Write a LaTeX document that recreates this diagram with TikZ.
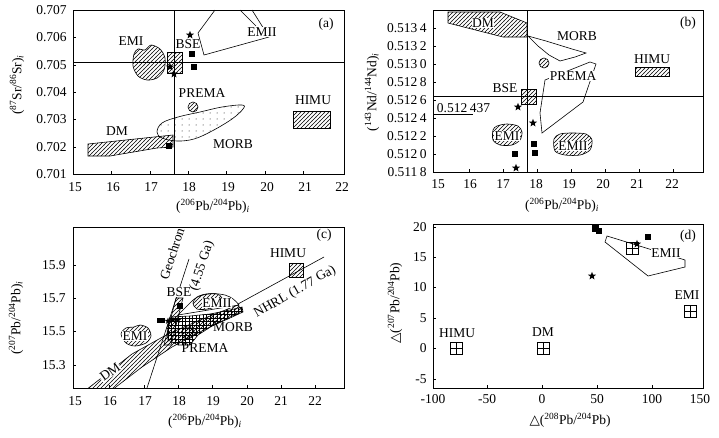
\documentclass[tikz,border=0pt]{standalone}
\usepackage{fontspec}
\setmainfont{Liberation Serif}
\newfontfamily\symf{DejaVu Sans}
\usetikzlibrary{patterns,shapes.geometric}
\pgfdeclarepatternformonly{hatchne}{\pgfpoint{-1pt}{-1pt}}{\pgfpoint{5pt}{5pt}}{\pgfpoint{4pt}{4pt}}{%
  \pgfsetlinewidth{0.55pt}\pgfpathmoveto{\pgfpoint{-0.1pt}{-0.1pt}}\pgfpathlineto{\pgfpoint{4.1pt}{4.1pt}}\pgfusepath{stroke}}
\pgfdeclarepatternformonly{gridp}{\pgfpoint{-1pt}{-1pt}}{\pgfpoint{4pt}{4pt}}{\pgfpoint{3.5pt}{3.5pt}}{%
  \pgfsetlinewidth{0.45pt}\pgfpathmoveto{\pgfpoint{0pt}{-0.1pt}}\pgfpathlineto{\pgfpoint{0pt}{3.6pt}}%
  \pgfpathmoveto{\pgfpoint{-0.1pt}{0pt}}\pgfpathlineto{\pgfpoint{3.6pt}{0pt}}\pgfusepath{stroke}}
\pgfdeclarepatternformonly{sdots}{\pgfpoint{-1pt}{-1pt}}{\pgfpoint{1pt}{1pt}}{\pgfpoint{7pt}{6pt}}{%
  \pgfpathcircle{\pgfpointorigin}{0.5pt}\pgfusepath{fill}}
\newcommand\pbsix{(\textsuperscript{206}Pb/\textsuperscript{204}Pb)\textsubscript{\itshape i}}
\tikzset{
  lab/.style={font=\fontsize{13.5}{15}\selectfont, inner sep=0.6pt},
  wlab/.style={lab, fill=white},
  tk/.style={font=\fontsize{13.5}{15}\selectfont, inner sep=1pt},
  ytk/.style={tk, anchor=east},
  frm/.style={line width=0.8pt},
  hatchr/.style={draw, line width=0.6pt, pattern=hatchne},
  sq/.style={fill, minimum size=5.5pt, inner sep=0pt},
  st/.style={star, star points=5, star point ratio=2.4, fill, minimum size=8.5pt, inner sep=0pt},
  bplus/.style={draw, line width=0.7pt, minimum size=12pt, inner sep=0pt,
    path picture={\draw (path picture bounding box.north) -- (path picture bounding box.south)
      (path picture bounding box.west) -- (path picture bounding box.east);}},
}
\begin{document}
\begin{tikzpicture}[x=1pt,y=-1pt,line width=0.6pt]
\useasboundingbox (0,0) rectangle (719,437);
\fill[white] (0,0) rectangle (719,437);

%% ================= panel (a) =================
\draw[frm] (73,10) rectangle (344,174);
\foreach \v/\y in {707/10,706/37.5,705/65,704/92,703/119.5,702/147,701/174}{
  \draw (73,\y) -- (76,\y);
  \node[ytk] (ya\v) at (68,\y) {0.\v};}
\foreach \v/\x in {15/75,16/113,17/151,18/189,19/228,20/267,21/305,22/342}{
  \node[tk] (xa\v) at (\x,187) {\v};}
\foreach \x in {111.4,149.8,188.2,226.6,265,303.4}{\draw (\x,174) -- (\x,171);}
\node[tk,rotate=90] (yta) at (17,85) {(\textsuperscript{87}Sr/\textsuperscript{86}Sr)\textsubscript{\itshape i}};
\node[tk] (xta) at (213,206) {\pbsix};
\node[lab] (tagA) at (326,24) {(a)};
% EMII outline
\draw (215,10) -- (198,33) -- (204,55) -- (269,37) -- (252,10);
\draw (240,10) -- (256,26);
\node[wlab] (aEMII) at (262,32) {EMII};
% EMI
\draw[hatchr] plot[smooth cycle] coordinates {(134,54) (138,49) (145,50) (151,45) (160,49) (165,58) (164,70) (157,78) (147,80) (138,76) (133,66)};
\node[lab] (aEMI) at (131,41) {EMI};
% BSE
\draw[hatchr] (167,52) rectangle (182,73);
\node[lab] (aBSE) at (188,44) {BSE};
% lines
\draw (174,10) -- (174,174);
\draw (73,62) -- (344,62);
% MORB
\draw[pattern=sdots] plot[smooth cycle, tension=0.6] coordinates {(157,132) (162,123) (178,117) (200,112) (222,107) (242,105) (243,109) (232,119) (212,131) (194,139) (177,141) (162,138)};
\node[lab] (aMORB) at (233,144) {MORB};
% PREMA
\draw[hatchr] (193,107) circle (5);
\node[lab] (aPREMA) at (202,93) {PREMA};
% DM
\draw[hatchr] (88,144) -- (173,135) -- (173,147) -- (157,148) -- (110,156) -- (88,156) -- cycle;
\node[lab] (aDM) at (117,131) {DM};
% HIMU
\draw[hatchr] (293,111) rectangle (330,128);
\node[lab] (aHIMU) at (313,100) {HIMU};
% samples
\node[st] (as1) at (190,35) {};
\node[st] (as2) at (170,67) {};
\node[st] (as3) at (174,74) {};
\node[sq] (aq1) at (192,54) {};
\node[sq] (aq2) at (194,67) {};
\node[sq] (aq3) at (169,146) {};

%% ================= panel (b) =================
\draw[frm] (433,10) rectangle (703,172);
\foreach \y in {28,46,64,82,100,118,136,154,172}{
  \draw (433,\y) -- (436,\y);}
\node[ytk] (yb1) at (428,28) {0.513\kern2.5pt4};
\node[ytk] (yb2) at (428,46) {0.513\kern2.5pt2};
\node[ytk] (yb3) at (428,64) {0.513\kern2.5pt0};
\node[ytk] (yb4) at (428,82) {0.512\kern2.5pt8};
\node[ytk] (yb5) at (428,100) {0.512\kern2.5pt6};
\node[ytk] (yb6) at (428,118) {0.512\kern2.5pt4};
\node[ytk] (yb7) at (428,136) {0.512\kern2.5pt2};
\node[ytk] (yb8) at (428,154) {0.512\kern2.5pt0};
\node[ytk] (yb9) at (428,172) {0.511\kern2.5pt8};
\foreach \v/\x in {15/438,16/470,17/503,18/536,19/569,20/603,21/637,22/672}{
  \node[tk] (xb\v) at (\x,184) {\v};}
\foreach \x in {469,503,537,571,605,639,673}{\draw (\x,172) -- (\x,169);}
\node[tk,rotate=90] (ytb) at (372,92) {(\textsuperscript{143}Nd/\textsuperscript{144}Nd)\textsubscript{\itshape i}};
\node[tk] (xtb) at (562,205) {\pbsix};
\node[lab] (tagB) at (688,23) {(b)};
\draw (527,10) -- (527,172);
\draw (433,96) -- (703,96);
% DM
\draw[hatchr] (448,12) -- (500,12) -- (527,23) -- (527,37) -- (503,37) -- (448,23) -- cycle;
\node[wlab] (bDM) at (483,23) {DM};
% MORB
\draw (528,36) -- (546,41) -- (572,49) -- (586,53) -- (575,57) -- (560,61) -- (549,55) -- (538,46) -- cycle;
\node[lab] (bMORB) at (577,36) {MORB};
% PREMA
\draw[hatchr] (544,63) circle (5);
\draw (590,62) -- (596,64) -- (583,102) -- (542,133) -- (540,113) -- (545,80) -- cycle;
\node[wlab] (bPREMA) at (573,76) {PREMA};
% BSE
\draw[hatchr] (521,89) rectangle (536,104);
\node[lab] (bBSE) at (505,88) {BSE};
% 0.512 437
\node[lab,anchor=west] (b437) at (436,108) {0.512\kern2.5pt437};
\coordinate (b437e) at (473,114);
\draw (433,114) -- (b437e);
% EMI, EMII
\draw[hatchr] plot[smooth cycle] coordinates {(493,130) (497,126) (507,124) (518,126) (522,132) (520,140) (512,145) (500,145) (493,140)};
\node[wlab] (bEMI) at (507,136) {EMI};
\draw[hatchr] plot[smooth cycle] coordinates {(554,139) (560,134) (572,133) (586,134) (592,140) (590,150) (580,155) (565,155) (555,151)};
\node[wlab] (bEMII) at (573,146) {EMII};
% HIMU
\draw[hatchr] (635,67) rectangle (669,76);
\node[lab] (bHIMU) at (652,59) {HIMU};
% samples
\node[st] (bs1) at (518,107) {};
\node[st] (bs2) at (533,123) {};
\node[st] (bs3) at (516,168) {};
\node[sq] (bq1) at (534,144) {};
\node[sq] (bq2) at (535,153) {};
\node[sq] (bq3) at (515,154) {};

%% ================= panel (c) =================
\draw[frm] (73,227) rectangle (344,388);
\foreach \v/\y in {15.9/265,15.7/298,15.5/331,15.3/365}{
  \draw (73,\y) -- (76,\y);
  \node[ytk] (yc\v) at (67,\y) {\v};}
\foreach \v/\x in {15/75,16/110,17/145,18/179,19/213,20/247,21/281,22/315}{
  \node[tk] (xc\v) at (\x,401) {\v};}
\foreach \x in {109,144,178,212,247,281,315}{\draw (\x,388) -- (\x,385);}
\node[tk,rotate=90] (ytc) at (16,318) {(\textsuperscript{207}Pb/\textsuperscript{204}Pb)\textsubscript{\itshape i}};
\node[tk] (xtc) at (205,421) {\pbsix};
\node[lab] (tagC) at (324,235) {(c)};
\begin{scope}
\clip (73,227) rectangle (344,388);
% DM band
\draw[hatchr] (86,390) -- (132,354) -- (168,334) -- (200,320) -- (238,305) -- (242,311) -- (200,332) -- (172,347) -- (142,367) -- (112,390) -- cycle;
% geochron
\coordinate (gc0) at (147,388);
\coordinate (gc1) at (189,259);
\draw (gc0) -- (gc1);
\end{scope}
% MORB grid
\draw[pattern=gridp] (170,317) -- (190,316) -- (210,314) -- (230,310) -- (242,307) -- (243,312) -- (230,318) -- (212,326) -- (198,335) -- (190,345) -- (178,345) -- (168,340) -- (167,328) -- cycle;
\node[lab] (cMORB) at (233,327) {MORB};
% PREMA
\draw[hatchr] plot[smooth cycle] coordinates {(182,331) (187,327) (193,329) (194,335) (188,339) (183,337)};
\node[lab] (cPREMA) at (205,348) {PREMA};
% EMII
\draw (178,315) -- (191,302) .. controls (198,294) and (212,292) .. (225,295) .. controls (232,297) and (236,301) .. (239,305) -- cycle;
\draw[hatchr] plot[smooth cycle] coordinates {(193,303) (197,297) (206,294) (217,294) (222,298) (219,305) (208,309) (197,309)};
\node[wlab] (cEMII) at (217,303) {EMII};
% NHRL
\coordinate (nh0) at (238,304);
\coordinate (nh1) at (324,257);
\draw (nh0) -- (nh1);
\node[lab,rotate=30] (cNHRL) at (295,292) {NHRL (1.77 Ga)};
% BSE
\draw[hatchr] (164,345) -- (171,345) -- (183,298) -- (176,298) -- cycle;
\node[wlab] (cBSE) at (179,292) {BSE};
\node[lab,rotate=72] (cGeo) at (172,254) {Geochron};
\node[lab,rotate=72] (cGa) at (202,266) {(4.55 Ga)};
% EMI
\draw[hatchr] plot[smooth cycle] coordinates {(121,334) (126,328) (134,327) (140,325) (148,328) (151,336) (146,343) (135,346) (126,343)};
\node[wlab] (cEMI) at (135,336) {EMI};
\node[wlab,rotate=36] (cDM) at (110,372) {DM};
% HIMU
\draw[hatchr] (289,263) rectangle (303,277);
\node[lab] (cHIMU) at (288,253) {HIMU};
% samples
\node[fill, minimum width=8pt, minimum height=5pt, inner sep=0pt] (cq1) at (161,320) {};
\node[sq, minimum size=6.5pt] (cq2) at (180,306) {};
\node[st, minimum size=7pt] (cs1) at (168,321) {};
\node[st, minimum size=7pt] (cs2) at (173,320) {};
\node[st, minimum size=7pt] (cs3) at (178,320) {};

%% ================= panel (d) =================
\draw[frm] (433,224) rectangle (703,388);
\foreach \v/\y in {20/227,15/257,10/287,5/318,0/348,-5/379}{
  \draw (433,\y) -- (436,\y);
  \node[ytk] (yd\v) at (428,\y) {\v};}
\foreach \v/\x in {-100/433,-50/487,0/542,50/597,100/652,150/700}{
  \node[tk] (xd\v) at (\x,399) {\v};}
\foreach \x in {487,542,597,652}{\draw (\x,388) -- (\x,385);}
\node[tk,rotate=90] (ytd) at (395,303) {{\symf △}(\textsuperscript{207}Pb/\textsuperscript{204}Pb)};
\node[tk] (xtd) at (570,420) {{\symf △}(\textsuperscript{208}Pb/\textsuperscript{204}Pb)};
\node[lab] (tagD) at (688,236) {(d)};
% EMII
\draw (607,236) -- (685,260) -- (685,267) -- (648,276) -- (605,242) -- cycle;
\node[wlab] (dEMII) at (666,253) {EMII};
\node[bplus] (dB1) at (632,248) {};
\node[bplus] (dB2) at (456,348) {};
\node[lab] (dHIMU) at (457,333) {HIMU};
\node[bplus] (dB3) at (543,348) {};
\node[lab] (dDM) at (543,332) {DM};
\node[bplus] (dB4) at (690,311) {};
\node[lab] (dEMI) at (687,295) {EMI};
% samples
\node[sq, minimum size=7pt] (dq1) at (595,228) {};
\node[sq, minimum size=6pt] (dq2) at (599,231) {};
\node[sq, minimum size=6.5pt] (dq3) at (648,237) {};
\node[st] (ds1) at (592,276) {};
\node[st] (ds2) at (637,244) {};
\end{tikzpicture}
\end{document}
